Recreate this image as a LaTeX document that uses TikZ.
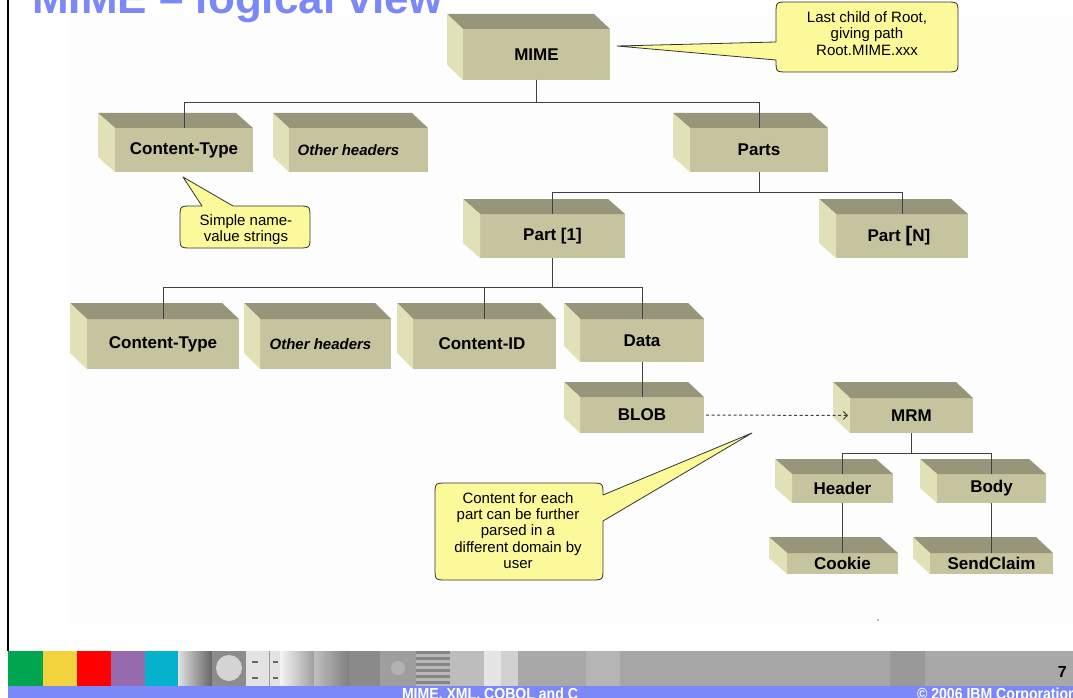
\documentclass[tikz,border=0pt]{standalone}
\usepackage{fontspec}
\setmainfont{Liberation Sans}
\newfontfamily\narrowsf[FakeStretch=0.88]{Liberation Sans}
\usetikzlibrary{arrows.meta,calc}
\definecolor{titleblue}{HTML}{7B88F8}
\definecolor{frontc}{HTML}{C5C49E}
\definecolor{topc}{HTML}{97967A}
\definecolor{sidec}{HTML}{E1E0B6}
\definecolor{calloutc}{HTML}{FCF99A}
\definecolor{panelc}{HTML}{FDFDFD}
\definecolor{connc}{HTML}{404040}
\definecolor{fgreen}{HTML}{00A550}
\definecolor{fyellow}{HTML}{F2D33E}
\definecolor{fred}{HTML}{FF0000}
\definecolor{fpurple}{HTML}{956BAE}
\definecolor{fcyan}{HTML}{04B2CE}
\newcommand\boxfont{\fontsize{17}{20}\selectfont\bfseries}
\newcommand\ohfont{\fontsize{15}{18}\selectfont\bfseries\itshape}
\newcommand\callfont{\fontsize{15}{16.3}\selectfont}
\newcommand\boxfaces[3]{%
  \fill[topc] (#1.north west) -- ++(-#2,-#3) -- ([shift={(-#2,-#3)}]#1.north east) -- (#1.north east) -- cycle;
  \fill[sidec] (#1.north west) -- ++(-#2,-#3) -- ([shift={(-#2,-#3)}]#1.south west) -- (#1.south west) -- cycle;}
\tikzset{
  bx/.style 2 args={fill=frontc, inner sep=0pt, outer sep=0pt, minimum width=#1, minimum height=#2, font=\boxfont, text=black},
  conn/.style={draw=connc, line width=1pt},
  callout/.style={fill=calloutc, draw=black!80, line width=0.8pt, line join=round},
  calltext/.style={align=center, font=\callfont, inner sep=0pt},
  foottext/.style={text=white, font=\narrowsf\fontsize{16}{18}\selectfont\bfseries, inner sep=0pt}
}
\begin{document}
\begin{tikzpicture}[x=1pt,y=-1pt]
\useasboundingbox (0,0) rectangle (1073,698);
\fill[white] (0,0) rectangle (1073,698);
\fill[panelc] (68,16) rectangle (1073,623);
% title
\node[anchor=base west, text=titleblue, inner sep=0pt, font=\fontsize{44}{50}\selectfont\bfseries] (title) at (32,14) {MIME -- logical view};
% left rule
\draw[line width=1.5pt] (8,0) -- (8,651);
% footer strip
\fill[fgreen] (8,651) rectangle (43,686);
\fill[fyellow] (43,651) rectangle (77,686);
\fill[fred] (77,651) rectangle (111,686);
\fill[fpurple] (111,651) rectangle (145,686);
\fill[fcyan] (145,651) rectangle (178,686);
\shade[left color=black!12, right color=black!60] (178,651) rectangle (212,686);
\fill[black!45] (212,651) rectangle (246,686);
\fill[black!17] (229,668) circle (13);
\fill[black!11] (246,651) rectangle (280,686);
\draw[black!40] (269,651) -- (269,686);
\fill[black!60] (252,661) rectangle (258,663);
\fill[black!60] (252,677) rectangle (258,679);
\fill[black!60] (273,661) rectangle (278,663);
\fill[black!60] (273,677) rectangle (278,679);
\shade[left color=black!4, right color=black!38] (280,651) rectangle (314,686);
\shade[left color=black!25, right color=black!50] (314,651) rectangle (349,686);
\fill[black!46] (349,651) rectangle (380,686);
\fill[black!38] (380,651) rectangle (416,686);
\fill[white!70!black] (398,668) circle (7);
\foreach \k in {0,...,5} {\fill[black!48] (416,651+6*\k) rectangle (450,654+6*\k); \fill[black!28] (416,654+6*\k) rectangle (450,657+6*\k);}
\fill[black!26] (450,651) rectangle (484,686);
\fill[black!10] (484,651) rectangle (501,686);
\fill[black!18] (501,651) rectangle (518,686);
\fill[black!34] (518,651) rectangle (586,686);
\fill[black!29] (586,651) rectangle (620,686);
\fill[black!35] (620,651) rectangle (890,686);
\fill[black!40] (890,651) rectangle (925,686);
\fill[black!34] (925,651) rectangle (1073,686);
\fill[titleblue] (8,686) rectangle (1073,698);
\node[anchor=base east, inner sep=0pt, font=\fontsize{16}{18}\selectfont\bfseries] (pgno) at (1067,677) {7};
\node[foottext, anchor=base] (ftitle) at (490,699) {MIME, XML, COBOL and C};
\node[foottext, anchor=base east] (fcopy) at (1077,699) {© 2006 IBM Corporation};
% boxes
\node[bx={147}{51}] (mime) at (536.5,54.5) {MIME};
\node[bx={138}{44}] (ct1) at (184,150) {Content-Type};
\node[bx={139}{44}, font=\ohfont] (oh1) at (358.5,150) {Other headers\hspace*{20pt}};
\node[bx={138}{44}] (parts) at (759,150) {Parts};
\node[bx={145}{44}] (part1) at (552.5,236) {Part [1]};
\node[bx={132}{44}] (partn) at (902,236) {Part {\fontsize{21}{20}\selectfont[}N]\hspace*{6pt}};
\node[bx={152}{50}] (ct3) at (163,344) {Content-Type};
\node[bx={131}{50}, font=\ohfont] (oh3) at (325.5,344) {Other headers\hspace*{10pt}};
\node[bx={143}{50}] (cid) at (484.5,344) {Content-ID\hspace*{5pt}};
\node[bx={124}{43}] (data) at (642,340.5) {Data};
\node[bx={124}{36}] (blob) at (642,415) {BLOB};
\node[bx={123}{35}] (mrm) at (911.5,415.5) {MRM};
\node[bx={101}{29}] (header) at (842.5,488.5) {Header};
\node[bx={109}{29}] (body) at (991.5,488.5) {Body};
\node[bx={111}{21}] (cookie) at (842.5,563.5) {Cookie};
\node[bx={123}{21}] (sendclaim) at (991.5,563.5) {SendClaim};
\boxfaces{mime}{16}{15}
\boxfaces{ct1}{17}{15}
\boxfaces{oh1}{16}{15}
\boxfaces{parts}{17}{15}
\boxfaces{part1}{17}{15}
\boxfaces{partn}{17}{15}
\boxfaces{ct3}{17}{16}
\boxfaces{oh3}{16}{16}
\boxfaces{cid}{16}{16}
\boxfaces{data}{16}{16}
\boxfaces{blob}{16}{15}
\boxfaces{mrm}{17}{16}
\boxfaces{header}{17}{15}
\boxfaces{body}{17}{15}
\boxfaces{cookie}{18}{16}
\boxfaces{sendclaim}{17}{16}
% connectors
\draw[conn] (mime.south) -- ++(0,23) -| (ct1.north);
\draw[conn] (mime.south) -- ++(0,23) -| (parts.north);
\draw[conn] (parts.south) -- ++(0,20) -| (part1.north);
\draw[conn] (parts.south) -- ++(0,20) -| (partn.north);
\draw[conn] (part1.south) -- ++(0,29) -| (ct3.north);
\draw[conn] (part1.south) -- ++(0,29) -| (cid.north);
\draw[conn] (part1.south) -- ++(0,29) -| (data.north);
\draw[conn] (data.south) -- (blob.north);
\draw[conn, dash pattern=on 3pt off 2.5pt, shorten <=2pt, shorten >=2pt, -{Straight Barb[length=4pt,width=8pt]}] (blob.east) -- (mrm.west);
\draw[conn] (mrm.south) -- ++(0,20) -| (header.north);
\draw[conn] (mrm.south) -- ++(0,20) -| (body.north);
\draw[conn] (header.south) -- (cookie.north);
\draw[conn] (body.south) -- (sendclaim.north);
% callouts
\coordinate (tip1) at (617,46);
\coordinate (tip2) at (183,177);
\coordinate (tip3) at (752,433);
\path[callout] (788,2) -- (946,2) .. controls (958,2) .. (958,14) -- (958,60) .. controls (958,72) .. (946,72) -- (788,72) .. controls (776,72) .. (776,60) -- (tip1) -- (776,42) -- (776,14) .. controls (776,2) .. (788,2) -- cycle;
\node[calltext] (c1) at (867,33.5) {Last child of Root,\\giving path\\Root.MIME.xxx};
\path[callout] (192,206) -- (202,206) -- (tip2) -- (233,206) -- (298,206) .. controls (310,206) .. (310,218) -- (310,236) .. controls (310,248) .. (298,248) -- (192,248) .. controls (180,248) .. (180,236) -- (180,218) .. controls (180,206) .. (192,206) -- cycle;
\node[calltext] (c2) at (246,229.5) {Simple name-\\value strings};
\path[callout] (447,483) -- (591,483) .. controls (603,483) .. (603,495) -- (tip3) -- (603,521) -- (603,568) .. controls (603,580) .. (591,580) -- (447,580) .. controls (435,580) .. (435,568) -- (435,495) .. controls (435,483) .. (447,483) -- cycle;
\node[calltext] (c3) at (518,530.5) {Content for each\\part can be further\\parsed in a\\different domain by\\user};
\fill[black!50] (878,620) circle (0.8);
\end{tikzpicture}
\end{document}
